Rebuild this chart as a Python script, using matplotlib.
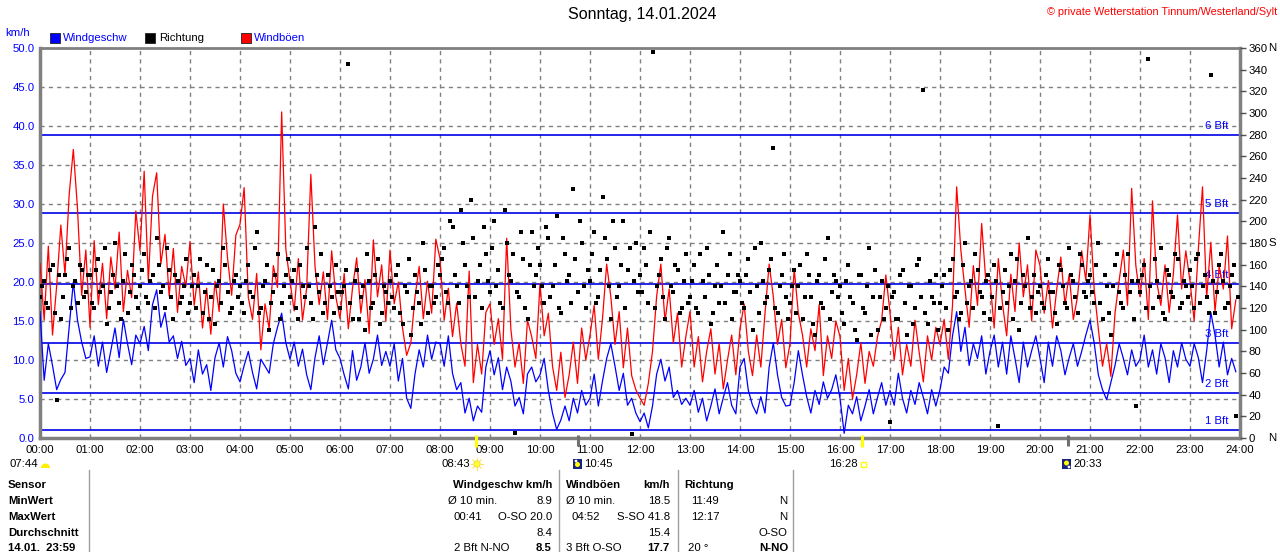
import numpy as np
import matplotlib
matplotlib.use('Agg')
import matplotlib.pyplot as plt
from matplotlib.patches import Rectangle, Circle, Wedge

plt.rcParams['font.family'] = ['Liberation Sans', 'DejaVu Sans']
FS = 8.2

# ---------------- data (5-minute samples, one row per hour) ----------------
wind_by_hour = [
    [16.2, 7.4, 12.1, 9.3, 6.2, 7.5, 8.4, 14.2, 20.0, 15.1, 12.3, 10.2],
    [10.4, 13.1, 9.2, 12.3, 8.4, 11.2, 14.1, 10.3, 15.2, 12.1, 9.4, 13.2],
    [12.1, 14.3, 11.2, 17.1, 19.0, 14.2, 16.1, 12.3, 13.1, 10.2, 12.4, 9.3],
    [10.2, 7.1, 11.3, 8.2, 9.4, 6.1, 10.3, 12.2, 9.1, 13.0, 11.2, 8.3],
    [7.2, 9.3, 11.1, 8.4, 6.3, 10.1, 9.2, 8.3, 12.1, 14.2, 16.0, 12.2],
    [10.1, 12.3, 9.2, 11.4, 8.1, 6.2, 10.3, 13.1, 9.4, 12.2, 15.1, 11.3],
    [10.2, 8.1, 6.3, 11.2, 7.4, 9.1, 12.2, 8.3, 10.1, 13.2, 9.3, 11.1],
    [9.2, 12.1, 7.3, 10.2, 5.1, 3.8, 8.2, 11.3, 9.1, 13.2, 10.1, 12.3],
    [12.1, 9.2, 13.1, 8.3, 6.2, 7.1, 3.2, 5.1, 2.2, 4.1, 3.3, 9.1],
    [11.2, 8.1, 10.3, 6.2, 9.1, 7.3, 4.1, 5.2, 3.1, 8.2, 9.1, 7.2],
    [8.1, 10.2, 6.1, 3.2, 1.1, 2.3, 4.1, 2.2, 5.1, 3.2, 6.1, 4.2],
    [5.1, 8.2, 4.1, 7.3, 10.2, 12.1, 9.2, 6.1, 8.3, 4.2, 5.1, 3.2],
    [2.1, 3.2, 1.3, 4.1, 8.2, 10.1, 7.3, 9.1, 5.2, 6.1, 4.3, 5.1],
    [4.2, 6.1, 3.3, 5.1, 2.2, 4.1, 6.3, 3.1, 5.2, 7.1, 4.2, 3.1],
    [9.1, 10.2, 6.1, 4.2, 3.1, 5.3, 3.2, 9.1, 12.2, 8.1, 5.2, 4.1],
    [4.2, 7.1, 11.2, 8.1, 5.3, 3.2, 6.1, 4.3, 7.2, 5.1, 6.2, 8.1],
    [5.1, 0.6, 4.2, 3.1, 5.3, 2.2, 4.1, 6.2, 3.1, 5.2, 7.1, 4.2],
    [6.1, 4.2, 8.3, 5.1, 3.2, 6.1, 4.3, 7.1, 5.2, 3.1, 6.2, 4.1],
    [6.2, 9.1, 8.3, 13.1, 16.2, 11.1, 14.2, 9.3, 12.1, 10.2, 13.1, 8.2],
    [11.1, 13.2, 9.1, 12.3, 8.2, 13.1, 10.2, 7.1, 12.3, 9.1, 11.2, 13.1],
    [10.2, 7.1, 12.3, 9.2, 13.1, 11.2, 8.1, 10.3, 12.1, 9.2, 11.1, 13.2],
    [15.1, 12.2, 8.1, 6.2, 4.9, 7.1, 9.3, 12.1, 10.2, 8.1, 11.3, 9.2],
    [10.1, 13.2, 9.1, 11.3, 8.2, 12.1, 10.3, 7.1, 11.2, 9.1, 12.2, 10.1],
    [9.2, 12.1, 10.3, 7.1, 11.2, 16.1, 13.2, 9.1, 12.3, 8.1, 10.2, 8.5],
]
gust_by_hour = [
    [22.4, 15.1, 24.6, 13.2, 19.5, 27.3, 21.0, 31.2, 37.0, 29.4, 18.3, 24.1],
    [14.2, 25.3, 17.1, 22.4, 15.3, 23.2, 19.1, 26.4, 16.2, 21.5, 18.0, 29.1],
    [24.0, 34.2, 20.1, 31.0, 34.0, 22.3, 26.1, 18.2, 24.3, 16.1, 22.0, 19.4],
    [25.2, 17.0, 21.3, 14.1, 19.2, 13.3, 20.1, 16.2, 30.0, 23.1, 18.3, 26.0],
    [27.4, 32.1, 18.0, 15.2, 21.1, 11.3, 17.2, 14.0, 22.1, 19.3, 41.8, 24.2],
    [20.1, 16.3, 23.0, 15.1, 19.2, 33.8, 22.0, 17.1, 21.3, 15.2, 24.0, 18.1],
    [15.3, 21.1, 14.0, 19.2, 23.1, 16.0, 20.3, 13.4, 25.4, 18.1, 22.2, 15.0],
    [24.1, 17.2, 20.0, 14.1, 10.6, 12.2, 18.1, 22.0, 15.3, 20.1, 16.0, 25.5],
    [23.0, 15.1, 19.2, 13.0, 17.3, 12.1, 9.2, 21.4, 7.1, 12.0, 8.2, 16.1],
    [17.2, 12.0, 15.3, 10.1, 25.6, 14.0, 9.1, 12.2, 7.0, 15.1, 13.0, 10.2],
    [19.8, 13.1, 16.0, 9.2, 6.1, 11.0, 5.2, 8.1, 12.3, 7.0, 14.1, 10.0],
    [13.2, 17.0, 10.1, 15.3, 22.3, 18.1, 12.0, 16.2, 9.0, 14.1, 8.0, 6.2],
    [5.1, 4.2, 7.0, 11.1, 18.2, 22.3, 15.0, 19.1, 12.2, 16.0, 9.1, 13.0],
    [16.2, 9.1, 13.0, 7.2, 11.1, 14.0, 8.2, 12.1, 6.3, 10.0, 13.2, 8.1],
    [14.0, 17.2, 11.1, 8.0, 13.2, 9.1, 16.0, 22.3, 18.1, 12.0, 15.2, 9.0],
    [12.1, 21.7, 16.0, 13.2, 9.1, 14.0, 11.2, 17.1, 8.0, 13.1, 10.2, 15.0],
    [13.0, 6.1, 10.2, 5.0, 8.1, 12.2, 7.0, 11.1, 9.2, 13.0, 15.1, 20.9],
    [16.1, 10.0, 14.2, 8.1, 12.0, 9.2, 15.1, 11.0, 7.2, 13.1, 10.0, 14.2],
    [12.0, 15.2, 10.1, 17.0, 32.2, 24.1, 19.0, 14.2, 22.1, 17.0, 27.5, 20.1],
    [20.2, 14.1, 23.0, 17.2, 13.1, 21.0, 16.2, 25.0, 18.1, 22.2, 15.0, 24.1],
    [22.1, 16.0, 20.2, 14.1, 19.0, 23.2, 17.1, 21.0, 15.2, 18.1, 24.0, 20.2],
    [28.6, 19.1, 14.0, 9.2, 12.1, 7.9, 16.0, 20.2, 24.1, 17.0, 32.0, 22.1],
    [18.1, 23.0, 15.2, 30.4, 20.1, 17.0, 22.2, 16.1, 21.0, 28.6, 19.1, 24.0],
    [20.1, 15.0, 24.2, 32.2, 18.0, 25.1, 16.2, 22.0, 19.1, 25.9, 14.0, 17.7],
]
# direction readings at the full 5 minutes
direction_by_hour = [
    [130, 145, 120, 160, 35, 110, 150, 175, 140, 125, 155, 135],
    [150, 120, 165, 140, 105, 135, 180, 125, 145, 115, 160, 130],
    [140, 170, 125, 150, 185, 135, 120, 155, 110, 145, 130, 165],
    [125, 150, 140, 115, 160, 130, 105, 145, 175, 135, 120, 150],
    [140, 115, 160, 130, 190, 120, 145, 100, 135, 170, 125, 150],
    [130, 155, 110, 140, 175, 125, 195, 135, 115, 150, 130, 160],
    [120, 140, 345, 110, 155, 130, 100, 145, 125, 165, 115, 135],
    [145, 120, 160, 105, 135, 95, 150, 125, 180, 115, 140, 130],
    [150, 175, 125, 195, 140, 210, 160, 130, 185, 145, 120, 170],
    [135, 200, 155, 120, 180, 145, 5, 130, 165, 110, 190, 150],
    [160, 125, 185, 140, 205, 115, 170, 150, 230, 135, 180, 120],
    [145, 190, 130, 222, 165, 110, 175, 140, 200, 155, 4, 180],
    [150, 175, 125, 356, 140, 165, 110, 185, 135, 155, 120, 170],
    [130, 160, 115, 145, 175, 105, 140, 125, 190, 150, 110, 135],
    [145, 120, 165, 100, 140, 180, 125, 155, 268, 115, 150, 130],
    [125, 155, 140, 110, 170, 130, 95, 150, 120, 185, 135, 145],
    [140, 105, 160, 125, 90, 150, 115, 175, 130, 100, 145, 120],
    [15, 135, 110, 155, 95, 140, 120, 165, 321, 105, 130, 150],
    [125, 150, 100, 165, 135, 115, 180, 140, 120, 155, 130, 145],
    [110, 160, 11, 135, 125, 170, 145, 100, 150, 185, 130, 115],
    [140, 120, 165, 135, 105, 155, 125, 175, 145, 115, 160, 130],
    [150, 125, 180, 110, 140, 95, 160, 135, 120, 170, 145, 30],
    [135, 160, 350, 120, 145, 175, 110, 150, 130, 165, 125, 140],
    [155, 120, 170, 140, 130, 335, 115, 160, 145, 125, 150, 20],
]
# direction readings in between (2.5 minutes later)
direction_mid_by_hour = [
    [140, 125, 155, 115, 150, 130, 165, 120, 145, 160, 130, 150],
    [125, 155, 135, 175, 120, 150, 140, 110, 170, 135, 150, 120],
    [155, 130, 145, 120, 160, 140, 175, 130, 150, 125, 140, 115],
    [140, 120, 165, 135, 110, 155, 140, 125, 160, 115, 145, 130],
    [125, 145, 135, 175, 115, 140, 160, 125, 150, 110, 140, 165],
    [145, 120, 160, 130, 140, 110, 150, 170, 125, 140, 115, 135],
    [135, 155, 125, 145, 110, 140, 170, 120, 150, 105, 140, 125],
    [130, 150, 115, 140, 165, 120, 135, 105, 155, 140, 125, 160],
    [165, 135, 200, 150, 125, 180, 140, 220, 130, 160, 195, 145],
    [175, 140, 125, 210, 150, 170, 135, 190, 120, 160, 140, 175],
    [140, 195, 130, 160, 120, 185, 145, 125, 165, 200, 140, 155],
    [170, 125, 155, 185, 140, 200, 130, 160, 120, 175, 145, 135],
    [135, 160, 190, 120, 150, 130, 175, 140, 160, 115, 145, 125],
    [145, 120, 170, 130, 150, 115, 160, 140, 125, 170, 135, 150],
    [125, 150, 135, 175, 115, 145, 130, 165, 120, 140, 170, 110],
    [140, 115, 160, 130, 150, 105, 145, 125, 165, 110, 150, 130],
    [115, 145, 130, 100, 150, 120, 140, 95, 155, 130, 110, 140],
    [130, 110, 150, 125, 140, 105, 160, 130, 115, 145, 125, 100],
    [140, 120, 155, 130, 110, 160, 125, 145, 170, 135, 115, 150],
    [130, 145, 120, 155, 140, 110, 165, 125, 140, 120, 150, 135],
    [125, 150, 135, 115, 160, 140, 120, 150, 130, 170, 135, 145],
    [135, 160, 125, 150, 115, 140, 170, 125, 150, 135, 110, 145],
    [150, 120, 140, 165, 130, 115, 155, 135, 170, 120, 145, 130],
    [140, 165, 125, 150, 115, 145, 135, 170, 120, 140, 160, 130],
]
hour_labels = ['%02d:00' % h for h in range(25)]
bft_limits = [1.08, 5.76, 12.24, 19.8, 28.8, 38.88]
bft_labels = ['1 Bft', '2 Bft', '3 Bft', '4 Bft', '5 Bft', '6 Bft']
dir_ticks = list(range(0, 361, 20))
speed_ticks = [0, 5, 10, 15, 20, 25, 30, 35, 40, 45, 50]

wind = np.array(sum(wind_by_hour, []))
gust = np.array(sum(gust_by_hour, []))
direction = np.array(sum(direction_by_hour, []))
direction_mid = np.array(sum(direction_mid_by_hour, []))
hours = np.arange(len(wind)) * 5 / 60.0
hours_mid = hours + 2.5 / 60.0

# ---------------- figure ----------------
W, H = 1280, 552
fig = plt.figure(figsize=(W / 100, H / 100), dpi=100)
fig.patch.set_facecolor('white')

def fx(px):
    return px / W

def fy(py):
    return 1 - py / H

ax = fig.add_axes([fx(40), fy(438), fx(1240) - fx(40), fy(48) - fy(438)])
ax.set_xlim(0, 24)
ax.set_ylim(0, 50)
ax.set_xticks(range(25))
ax.set_xticklabels(hour_labels, fontsize=FS)
ax.set_yticks(speed_ticks)
ax.set_yticklabels(['%.1f' % v for v in speed_ticks], fontsize=FS, color='#0000ff')
ax.tick_params(axis='x', length=0, pad=5)
ax.tick_params(axis='y', length=0, pad=4)
ax.grid(True, color='#808080', linestyle=(0, (3, 3)), linewidth=1, zorder=1)
ax.set_axisbelow(True)
for name, sp in ax.spines.items():
    sp.set_color('#808080')
    sp.set_linewidth(2.5 if name != 'top' else 2)

for lim, lab in zip(bft_limits, bft_labels):
    ax.axhline(lim, color='#0000e6', lw=1.2, zorder=2)
    ax.text(23.3, lim + 0.5, lab, color='#0000ff', fontsize=FS, va='bottom', ha='left', zorder=2)

ax.plot(hours, gust, color='#ff0000', lw=0.9, zorder=3)
ax.plot(hours, wind, color='#0000ff', lw=0.9, zorder=4)

ax2 = ax.twinx()
ax2.set_ylim(0, 360)
ax2.set_yticks(dir_ticks)
ax2.set_yticklabels([str(v) for v in dir_ticks], fontsize=FS)
ax2.tick_params(axis='y', length=4, width=1, color='#505050', pad=2)
for sp in ax2.spines.values():
    sp.set_visible(False)
ax2.plot(hours, direction, 's', color='black', ms=2.2, mew=0, zorder=5)
ax2.plot(hours_mid, direction_mid, 's', color='black', ms=2.2, mew=0, zorder=5)

# ---------------- overlay (pixel coordinates) ----------------
ov = fig.add_axes([0, 0, 1, 1], zorder=10)
ov.set_xlim(0, W)
ov.set_ylim(H, 0)
ov.axis('off')
ov.patch.set_alpha(0)

ov.text(642, 15, 'Sonntag, 14.01.2024', fontsize=11.5, color='black', ha='center', va='center')
ov.text(1277, 12, '\u00a9 private Wetterstation Tinnum/Westerland/Sylt', fontsize=7.8,
        color='#ff0000', ha='right', va='center')
ov.text(5, 33, 'km/h', fontsize=FS, color='#0000ff', ha='left', va='center')

# legend
for x0, col, lab, tcol, tx in [(50, '#0000ff', 'Windgeschw', '#0000ff', 63),
                               (145, '#000000', 'Richtung', '#000000', 159),
                               (241, '#ff0000', 'Windböen', '#0000ff', 254)]:
    ov.add_patch(Rectangle((x0, 33), 9.5, 9.5, facecolor=col, edgecolor='#202020', lw=0.6))
    ov.text(tx, 38, lab, fontsize=FS, color=tcol, ha='left', va='center')

# right-axis compass letters
for py, letter in [(48, 'N'), (243, 'S'), (438, 'N')]:
    ov.text(1268, py, letter, fontsize=FS, color='black', ha='left', va='center')

# sun / moon markers on the time axis
ov.plot([476, 476], [435, 447], color='#ffff00', lw=2.2, solid_capstyle='butt')
ov.plot([862, 862], [435, 447], color='#ffff00', lw=2.2, solid_capstyle='butt')
ov.plot([577.5, 577.5], [435, 446], color='#707070', lw=2.2, solid_capstyle='butt')
ov.plot([1067.5, 1067.5], [435, 446], color='#707070', lw=2.2, solid_capstyle='butt')

ov.text(9, 464, '07:44', fontsize=FS, ha='left', va='center')
ov.add_patch(Wedge((45.5, 468), 4.5, 180, 360, facecolor='#ffee00', edgecolor='none'))
ov.text(470, 464, '08:43', fontsize=FS, ha='right', va='center')
ov.add_patch(Circle((477, 464), 3.2, facecolor='#ffff40', edgecolor='#f0d000', lw=0.5))
for ang in np.linspace(0, 2 * np.pi, 8, endpoint=False):
    ov.plot([477 + 4 * np.cos(ang), 477 + 5.8 * np.cos(ang)],
            [464 + 4 * np.sin(ang), 464 + 5.8 * np.sin(ang)], color='#ffe060', lw=0.8)
ov.add_patch(Rectangle((573, 459), 9, 10, facecolor='#1a237e', edgecolor='none'))
ov.add_patch(Circle((577.5, 464.5), 2.5, facecolor='#ffff00', edgecolor='none'))
ov.add_patch(Circle((576, 461), 1.4, facecolor='white', edgecolor='none'))
ov.text(584, 464, '10:45', fontsize=FS, ha='left', va='center')
ov.text(858, 464, '16:28', fontsize=FS, ha='right', va='center')
ov.add_patch(Rectangle((860.5, 461.5), 5, 5, facecolor='none', edgecolor='#ffff00', lw=1))
ov.add_patch(Rectangle((1062, 459), 9, 10, facecolor='#1a237e', edgecolor='none'))
ov.add_patch(Circle((1066.5, 463), 2.5, facecolor='#ffff00', edgecolor='none'))
ov.add_patch(Circle((1069, 467), 1.4, facecolor='white', edgecolor='none'))
ov.text(1073, 464, '20:33', fontsize=FS, ha='left', va='center')

# ---------------- summary table ----------------
rows_y = [485, 501, 517, 533, 548]
for xs in [88.5, 558.5, 678, 793]:
    ov.plot([xs, xs], [470, 552], color='#a0a0a0', lw=1)

left_col = ['Sensor', 'MinWert', 'MaxWert', 'Durchschnitt', '14.01.  23:59']
for y, t in zip(rows_y, left_col):
    ov.text(8, y, t, fontsize=FS, fontweight='bold', ha='left', va='center')

def T(x, y, s, ha='left', bold=False):
    ov.text(x, y, s, fontsize=FS, fontweight='bold' if bold else 'normal', ha=ha, va='center')

T(552, rows_y[0], 'Windgeschw km/h', 'right', True)
T(448, rows_y[1], 'Ø 10 min.')
T(552, rows_y[1], '8.9', 'right')
T(454, rows_y[2], '00:41')
T(552, rows_y[2], 'O-SO 20.0', 'right')
T(552, rows_y[3], '8.4', 'right')
T(454, rows_y[4], '2 Bft N-NO')
T(552, rows_y[4], '8.5', 'right', True)

T(566, rows_y[0], 'Windböen', 'left', True)
T(670, rows_y[0], 'km/h', 'right', True)
T(566, rows_y[1], 'Ø 10 min.')
T(670, rows_y[1], '18.5', 'right')
T(571, rows_y[2], '04:52')
T(670, rows_y[2], 'S-SO 41.8', 'right')
T(670, rows_y[3], '15.4', 'right')
T(566, rows_y[4], '3 Bft O-SO')
T(670, rows_y[4], '17.7', 'right', True)

T(684, rows_y[0], 'Richtung', 'left', True)
T(691, rows_y[1], '11:49')
T(787, rows_y[1], 'N', 'right')
T(691, rows_y[2], '12:17')
T(787, rows_y[2], 'N', 'right')
T(787, rows_y[3], 'O-SO', 'right')
T(688, rows_y[4], '20 °')
T(788, rows_y[4], 'N-NO', 'right', True)

fig.savefig('out.png', dpi=100)
